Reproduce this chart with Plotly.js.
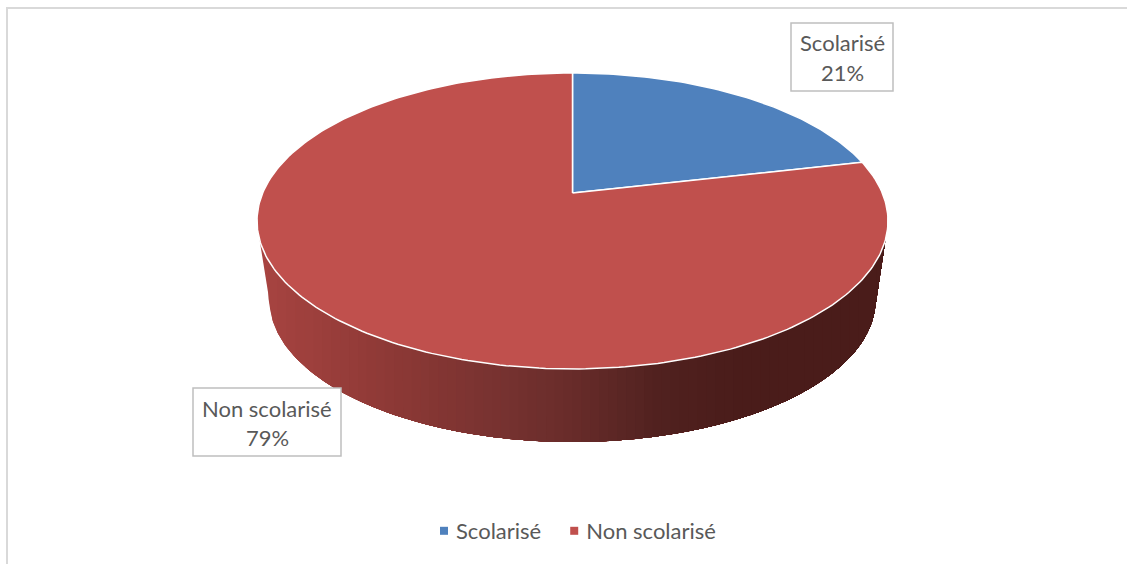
<!DOCTYPE html>
<html>
<head>
<meta charset="utf-8">
<script src="https://cdn.plot.ly/plotly-3.0.1.min.js"></script>
<style>html,body{margin:0;padding:0;background:#fff}#c{width:1127px;height:564px}</style>
</head>
<body>
<div id="c"></div>
<script>
// Data
const categories = ["Scolarisé", "Non scolarisé"];
const values = [21.4, 78.6];
const sliceColors = ["#4f81bd", "#c0504d"];

// Pie projection (pixel-valued axes)
const cx = 572.5, apexY = 193, persp = 0.189, A = 309.8, B = 142.7;
const rimCy = 221, rimRy = 148, rimRx = 315.5;
const baseCy = 300, baseRy = 142, baseRx = 303;

// Side shading stops
const shadeX = [258, 400, 500, 572, 660, 740, 888];
const shadeRGB = [[168,68,65],[139,56,53],[119,50,48],[104,44,42],[80,33,31],[74,28,26],[74,28,26]];
const bandCount = 70;

function project(th) {
  const u = Math.sin(th), v = -Math.cos(th), w = 1 - persp * v;
  return [cx + A * u / w, apexY + B * v / w];
}
function shade(x) {
  let i = 0;
  while (i < shadeX.length - 2 && x > shadeX[i + 1]) i++;
  const t = Math.min(1, Math.max(0, (x - shadeX[i]) / (shadeX[i + 1] - shadeX[i])));
  const c = shadeRGB[i].map((a, k) => Math.round(a + (shadeRGB[i + 1][k] - a) * t));
  return `rgb(${c[0]},${c[1]},${c[2]})`;
}

// Lower outline of the side wall
const outline = [];
const topY = 240;
const topHalf = rimRx * Math.sqrt(1 - Math.pow((topY - rimCy) / rimRy, 2));
outline.push([cx - topHalf, topY]);
for (let d = 4; d <= 176; d += 1) {
  const t = d * Math.PI / 180;
  outline.push([cx - baseRx * Math.cos(t), baseCy + baseRy * Math.sin(t)]);
}
outline.push([cx + topHalf, topY]);

const traces = [];
// Side wall: each band runs from its left edge to the far right, painted left to right
for (let b = 0; b < bandCount; b++) {
  const x0 = (cx - topHalf) + (2 * topHalf) * b / bandCount;
  const pts = outline.filter(p => p[0] >= x0);
  let yAt = topY;
  for (let i = 0; i < outline.length - 1; i++) {
    if (outline[i][0] <= x0 && outline[i + 1][0] >= x0) {
      const s = (x0 - outline[i][0]) / Math.max(1e-6, outline[i + 1][0] - outline[i][0]);
      yAt = outline[i][1] + s * (outline[i + 1][1] - outline[i][1]);
      break;
    }
  }
  const xs = [x0, x0].concat(pts.map(p => p[0]), [x0]);
  const ys = [topY, yAt].concat(pts.map(p => p[1]), [topY]);
  traces.push({
    x: xs, y: ys, mode: "lines", fill: "toself", fillcolor: shade(x0 + topHalf / bandCount),
    line: { width: 0 }, hoverinfo: "skip", showlegend: false, type: "scatter"
  });
}

// Top face slices, from the values
const total = values.reduce((a, b) => a + b, 0);
let acc = 0;
values.forEach((val, i) => {
  const a0 = acc / total * 2 * Math.PI;
  acc += val;
  const a1 = acc / total * 2 * Math.PI;
  const xs = [cx], ys = [apexY];
  const n = Math.max(40, Math.round(360 * val / total));
  for (let k = 0; k <= n; k++) {
    const p = project(a0 + (a1 - a0) * k / n);
    xs.push(p[0]); ys.push(p[1]);
  }
  xs.push(cx); ys.push(apexY);
  traces.push({
    x: xs, y: ys, mode: "lines", fill: "toself", fillcolor: sliceColors[i],
    line: { color: "#ffffff", width: 1.5 }, name: categories[i],
    hoverinfo: "name", showlegend: false, type: "scatter"
  });
});

// Legend entries
categories.forEach((c, i) => traces.push({
  x: [null], y: [null], mode: "markers", name: c, type: "scatter",
  marker: { symbol: "square", size: 8, color: sliceColors[i] }
}));

const font = "Lato, 'Open Sans', sans-serif";
const textColor = "#595959";
const fontSize = 22;
const pct = values.map(v => Math.round(v / total * 100) + "%");
const labelBoxes = [[791, 893, 23, 91], [193, 341, 388, 456]];
const lineY = [[42, 72], [408, 437]];
const frame = "#d9d9d9";

const annotations = [];
const shapes = [
  { type: "line", xref: "x", yref: "y", x0: 7, x1: 7, y0: 7, y1: 564, line: { color: frame, width: 2 } },
  { type: "line", xref: "x", yref: "y", x0: 6, x1: 1127, y0: 8, y1: 8, line: { color: frame, width: 2 } }
];
categories.forEach((c, i) => {
  const b = labelBoxes[i], mid = (b[0] + b[1]) / 2;
  shapes.push({ type: "rect", xref: "x", yref: "y", x0: b[0], x1: b[1], y0: b[2], y1: b[3],
    fillcolor: "#ffffff", line: { color: "#bfbfbf", width: 1.5 }, layer: "above" });
  [c, pct[i]].forEach((t, k) => annotations.push({
    x: mid, y: lineY[i][k], xref: "x", yref: "y", text: t, showarrow: false,
    xanchor: "center", yanchor: "middle", font: { family: font, size: fontSize, color: textColor }
  }));
});

const layout = {
  width: 1127, height: 564,
  margin: { l: 0, r: 0, t: 0, b: 0 },
  paper_bgcolor: "#ffffff", plot_bgcolor: "#ffffff",
  xaxis: { range: [0, 1127], visible: false, fixedrange: true },
  yaxis: { range: [564, 0], visible: false, fixedrange: true },
  showlegend: true,
  legend: {
    orientation: "h", x: 416 / 1127, y: 1 - 531 / 564, xanchor: "left", yanchor: "middle",
    font: { family: font, size: fontSize, color: textColor },
    bgcolor: "rgba(0,0,0,0)"
  },
  shapes, annotations
};
Plotly.newPlot("c", traces, layout, { displayModeBar: false }).then(() => {
  document.querySelectorAll("#c .legend .legendsymbols").forEach(g => g.setAttribute("transform", "translate(8,0)"));
});
</script>
</body>
</html>
